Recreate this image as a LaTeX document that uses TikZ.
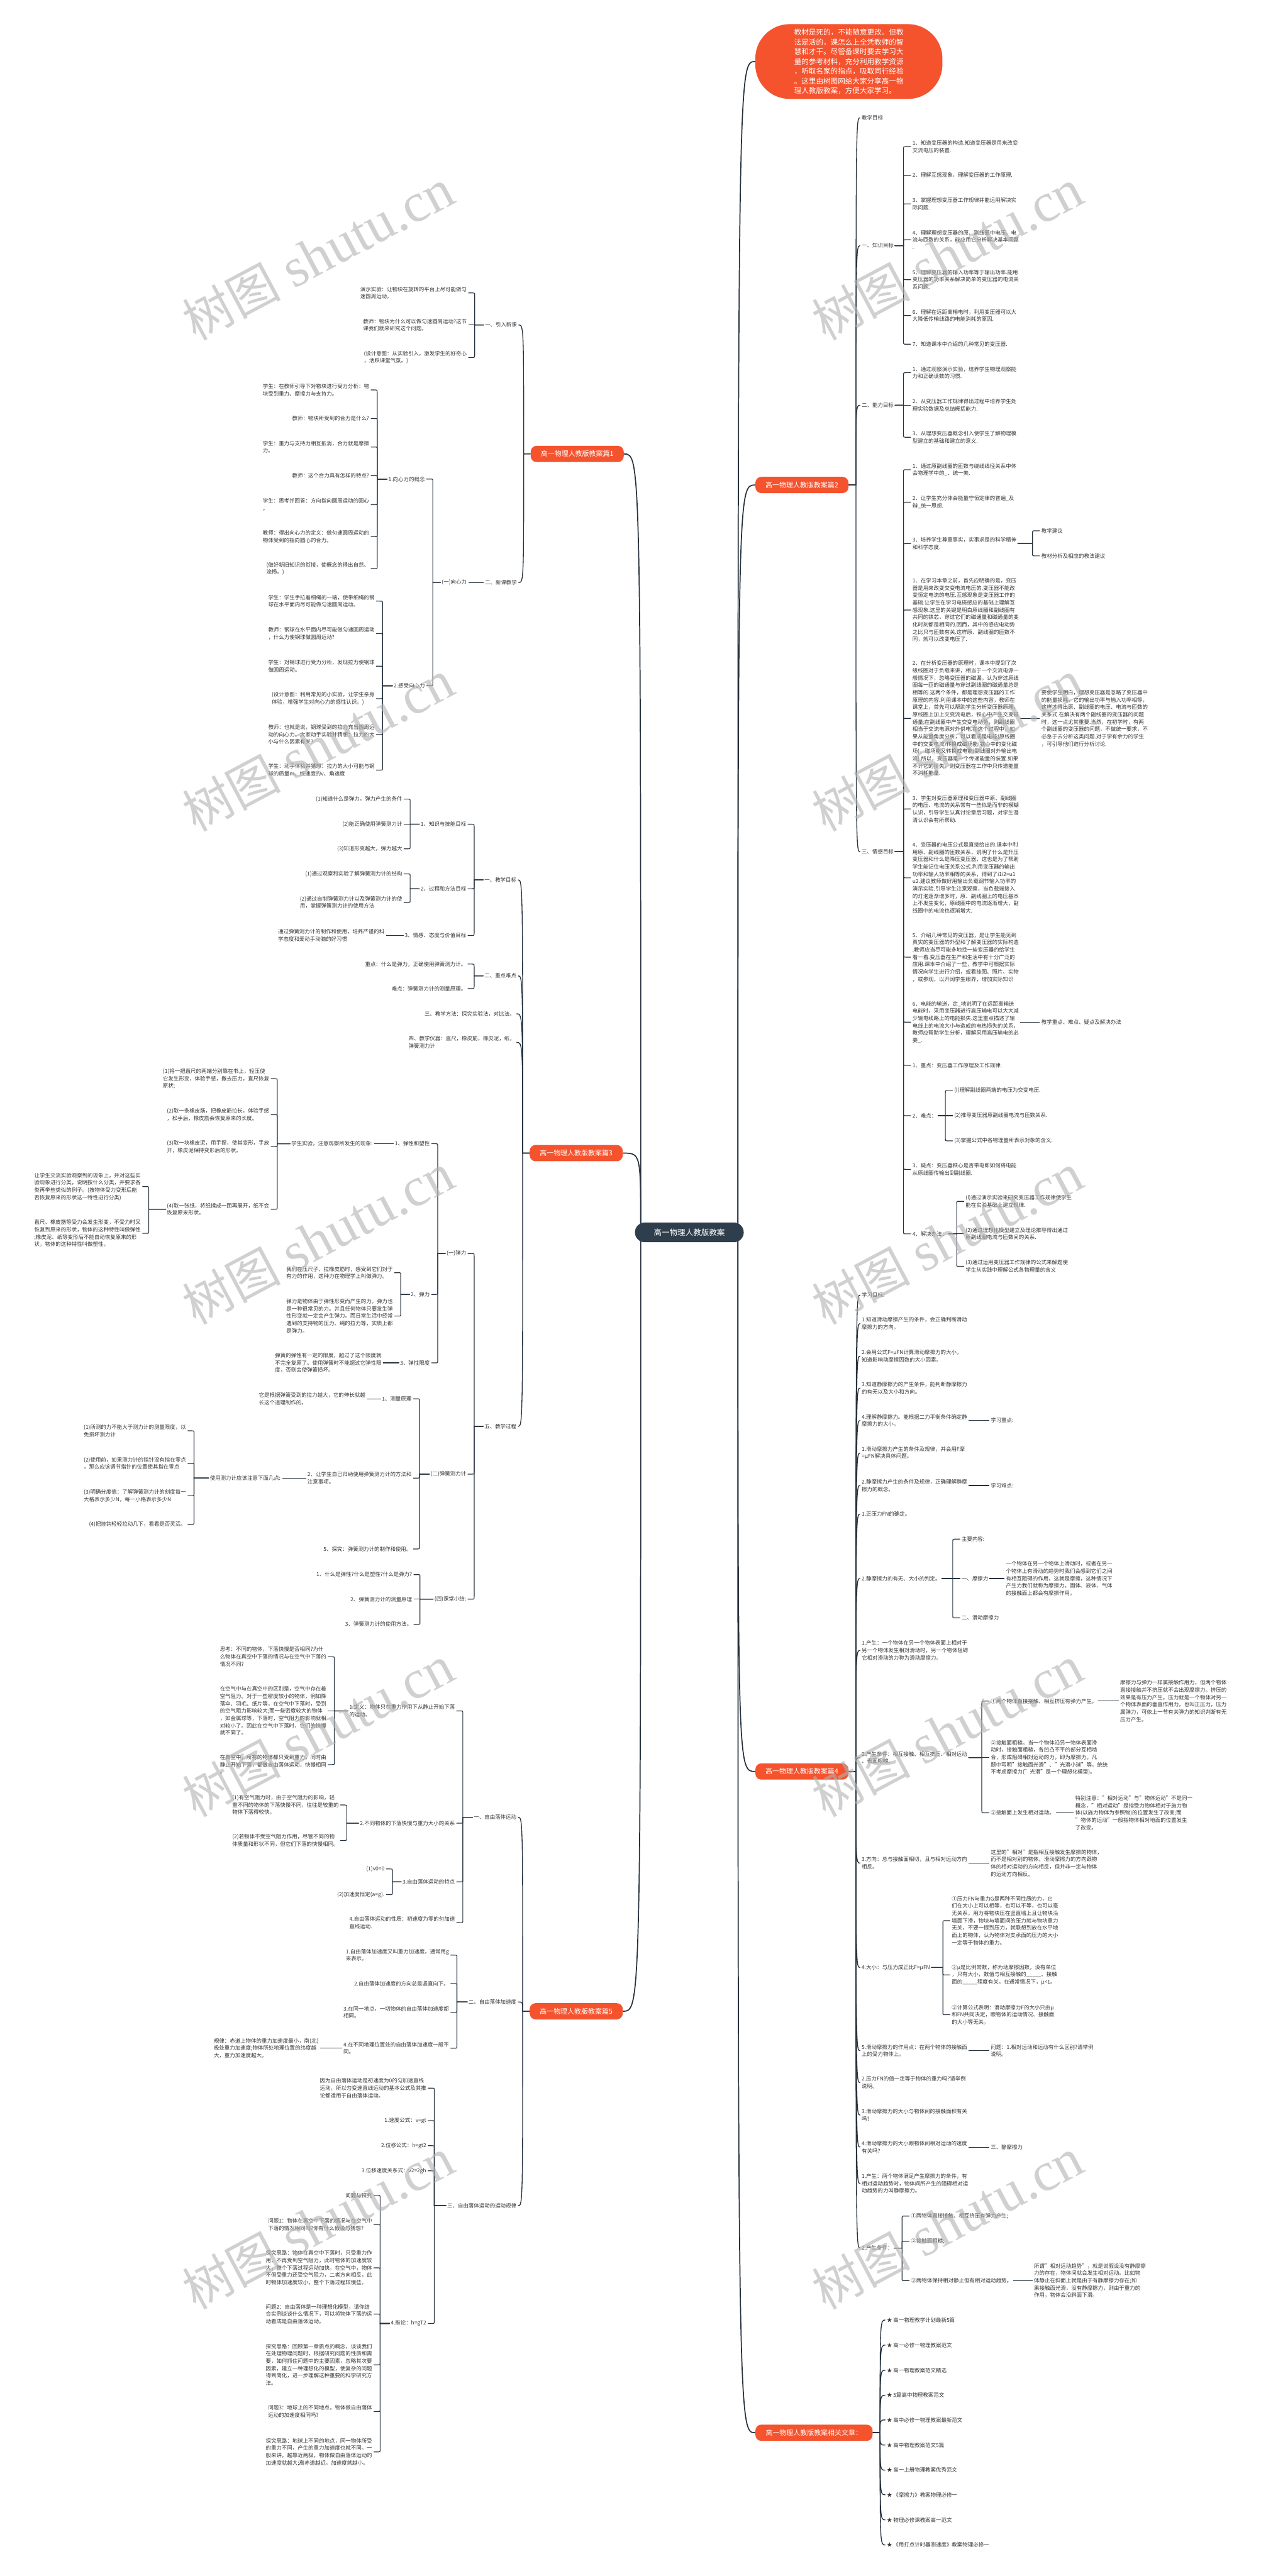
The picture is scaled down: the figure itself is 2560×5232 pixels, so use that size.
\documentclass[tikz,border=0pt]{standalone}
\usepackage{fontspec}
\setmainfont{Noto Sans CJK SC}
\newfontfamily\wmserif{Liberation Serif}
\usetikzlibrary{calc}
\definecolor{og}{HTML}{F5532E}
\definecolor{rootc}{HTML}{2F3E4C}
\definecolor{lnc}{HTML}{25323E}
\definecolor{txc}{HTML}{333333}
\pgfdeclarelayer{bg}
\pgfsetlayers{bg,main}
\tikzset{
 tx/.style={font=\fontsize{10.8}{14.9}\selectfont, inner sep=0pt, align=left, text=txc},
 nr/.style={tx, anchor=west},
 nl/.style={tx, anchor=east},
 lab/.style={fill=og, text=white, rounded corners=12pt, font=\fontsize{14}{16}\selectfont, inner xsep=8pt, inner ysep=0pt, minimum height=33pt, minimum width=189pt},
 br/.style={draw=lnc, line width=1.5pt},
 mb/.style={draw=lnc, line width=1.7pt},
 rt/.style={draw=lnc, line width=2.2pt},
 wm/.style={rotate=28, text=black!30, opacity=0.6, inner sep=0pt}
}
\newcommand\ConR[2]{\draw[br] let \p1=(#1.east), \p2=(#2.west), \n1={\x2-18pt}, \n3={5*(((\y2)>(\y1))-((\y2)<(\y1)))} in (\x1+2pt,\y1) -- (\n1,\y1) -- (\n1,{\y2-(\n3)}) .. controls (\n1,\y2) .. (\n1+5pt,\y2) -- (\x2-3pt,\y2);}
\newcommand\ConL[2]{\draw[br] let \p1=(#1.west), \p2=(#2.east), \n1={\x2+16pt}, \n3={5*(((\y2)>(\y1))-((\y2)<(\y1)))} in (\x1-2pt,\y1) -- (\n1,\y1) -- (\n1,{\y2-(\n3)}) .. controls (\n1,\y2) .. (\n1-5pt,\y2) -- (\x2+3pt,\y2);}
\newcommand\MainR[2]{\draw[mb] let \p1=(#1.east), \p2=(#2.west) in (\x1,\y1) -- (\x1+15pt,\y1) .. controls (\x1+15pt,\y2) .. (\x2-3pt,\y2);}
\newcommand\MainL[2]{\draw[mb] let \p1=(#1.west), \p2=(#2.east) in (\x1,\y1) -- (\x1-14pt,\y1) .. controls (\x1-14pt,\y2) .. (\x2+3pt,\y2);}
\newcommand\RootR[1]{\draw[rt] let \p1=(root.east), \p2=(#1.west) in (\x1-12pt,\y1) .. controls (\x1-12pt,\y2) .. (\x2,\y2);}
\newcommand\RootL[1]{\draw[rt] let \p1=(root.west), \p2=(#1.east) in (\x1+12pt,\y1) .. controls (\x1+12pt,\y2) .. (\x2,\y2);}
\newcommand\wmtext{{\fontsize{100}{100}\selectfont 树图}\hspace{26pt}{\wmserif\fontsize{112}{112}\selectfont shutu.cn}}
\begin{document}
\begin{tikzpicture}[x=1pt,y=-1pt]
\useasboundingbox (0,0) rectangle (2560,5232);
\begin{pgfonlayer}{bg}
\fill[white] (0,0) rectangle (2560,5232);
\end{pgfonlayer}

% ---------- root and main labels
\node[fill=rootc, text=white, rounded corners=20pt, minimum width=221pt, minimum height=40pt, font=\fontsize{16}{18}\selectfont, inner sep=0pt] (root) at (1400,2503) {高一物理人教版教案};
\node[fill=og, text=white, rounded corners=70pt, minimum width=380pt, minimum height=152pt, font=\fontsize{14.8}{19.8}\selectfont, align=left, inner sep=0pt] (IN) at (1724,125) {教材是死的，不能随意更改。但教\\法是活的，课怎么上全凭教师的智\\慧和才干。尽管备课时要去学习大\\量的参考材料，充分利用教学资源\\，听取名家的指点，吸取同行经验\\。这里由树图网给大家分享高一物\\理人教版教案，方便大家学习。};
\node[lab, anchor=west] (B2) at (1534,985) {高一物理人教版教案篇2};
\node[lab, anchor=west] (B4) at (1534,3598) {高一物理人教版教案篇4};
\node[lab, anchor=west, minimum width=238pt] (B6) at (1534,4941) {高一物理人教版教案相关文章：};
\node[lab, anchor=east] (B1) at (1267,922) {高一物理人教版教案篇1};
\node[lab, anchor=east] (B3) at (1265,2342) {高一物理人教版教案篇3};
\node[lab, anchor=east] (B5) at (1265,4085) {高一物理人教版教案篇5};

% ---------- 篇2
\node[nr] (b2a) at (1750,239) {教学目标};
\node[nr] (b2b) at (1750,499) {一、知识目标};
\node[nr] (b2c) at (1750,823) {二、能力目标};
\node[nr] (b2d) at (1750,1730) {三、情感目标};
\node[nr] (b2b1) at (1853,298) {1、知道变压器的构造.知道变压器是用来改变\\交流电压的装置.};
\node[nr] (b2b2) at (1853,356) {2、理解互感现象，理解变压器的工作原理.};
\node[nr] (b2b3) at (1853,414) {3、掌握理想变压器工作规律并能运用解决实\\际问题.};
\node[nr] (b2b4) at (1853,487) {4、理解理想变压器的原、副线圈中电压、电\\流与匝数的关系，能应用它分析解决基本问题\\.};
\node[nr] (b2b5) at (1853,568) {5、理解变压器的输入功率等于输出功率.能用\\变压器的功率关系解决简单的变压器的电流关\\系问题.};
\node[nr] (b2b6) at (1853,641) {6、理解在远距离输电时，利用变压器可以大\\大降低传输线路的电能消耗的原因.};
\node[nr] (b2b7) at (1853,699) {7、知道课本中介绍的几种常见的变压器.};
\node[nr] (b2c1) at (1853,757) {1、通过观察演示实验，培养学生物理观察能\\力和正确读数的习惯.};
\node[nr] (b2c2) at (1853,823) {2、从变压器工作规律得出过程中培养学生处\\理实验数据及总结概括能力.};
\node[nr] (b2c3) at (1853,888) {3、从理想变压器概念引入使学生了解物理模\\型建立的基础和建立的意义.};
\node[nr] (b2d1) at (1853,954) {1、通过原副线圈的匝数与绕线线径关系中体\\会物理学中的\_、统一美.};
\node[nr] (b2d2) at (1853,1020) {2、让学生充分体会能量守恒定律的普遍\_及\\辩\_统一思想.};
\node[nr] (b2d3) at (1853,1104) {3、培养学生尊重事实，实事求是的科学精神\\和科学态度.};
\node[nr] (b2d3a) at (2115,1078) {教学建议};
\node[nr] (b2d3b) at (2115,1129) {教材分析及相应的教法建议};
\node[nr] (b2d4) at (1853,1239) {1、在学习本章之前，首先应明确的是，变压\\器是用来改变交变电流电压的.变压器不能改\\变恒定电流的电压.互感现象是变压器工作的\\基础.让学生在学习电磁感应的基础上理解互\\感现象.这里的关键是明白原线圈和副线圈有\\共同的铁芯，穿过它们的磁通量和磁通量的变\\化时刻都是相同的.因而，其中的感应电动势\\之比只与匝数有关.这样原、副线圈的匝数不\\同，就可以改变电压了.};
\node[nr] (b2d5) at (1853,1459) {2、在分析变压器的原理时，课本中提到了次\\级线圈对于负载来讲，相当于一个交流电源一\\般情况下，忽略变压器的磁漏，认为穿过原线\\圈每一匝的磁通量与穿过副线圈的磁通量总是\\相等的.这两个条件，都是理想变压器的工作\\原理的内容.利用课本中的这些内容，教师在\\课堂上，首先可以帮助学生分析变压器原理，\\原线圈上加上交变流电后，铁心中产生交变磁\\通量;在副线圈中产生交变电动势，则副线圈\\相当于交流电源对外供电.在这个过程中，如\\果从能量角度分析，可以看成是电能(原线圈\\中的交变电流)转换成磁场能(铁心中的变化磁\\场)，磁场能又转换成电能(副线圈对外输出电\\流).所以，变压器是一个传递能量的装置.如果\\不计它的损失，则变压器在工作中只传递能量\\不消耗能量.};
\node[nr] (b2d5a) at (2115,1459) {要使学生明白，理想变压器是忽略了变压器中\\的能量损耗，它的输出功率与输入功率相等，\\这样才得出原、副线圈的电压、电流与匝数的\\关系式.在解决有两个副线圈的变压器的问题\\时，这一点尤其重要.当然，在初学时，有两\\个副线圈的变压器的问题，不做统一要求，不\\必急于去分析这类问题.对于学有余力的学生\\，可引导他们进行分析讨论.};
\node[nr] (b2d6) at (1853,1643) {3、学生对变压器原理和变压器中原、副线圈\\的电压、电流的关系常有一些似是而非的模糊\\认识，引导学生认真讨论章后习题，对学生澄\\清认识会有所帮助.};
\node[nr] (b2d7) at (1853,1783) {4、变压器的电压公式是直接给出的.课本中利\\用原、副线圈的匝数关系，说明了什么是升压\\变压器和什么是降压变压器，这也是为了帮助\\学生能记住电压关系公式.利用变压器的输出\\功率和输人功率相等的关系，得到了i1i2=u1\\u2.建议教师做好用输出负载调节输入功率的\\演示实验.引导学生注意观察，当负载端接入\\的灯泡逐渐增多时，原、副线圈上的电压基本\\上不发生变化，原线圈中的电流逐渐增大，副\\线圈中的电流也逐渐增大.};
\node[nr] (b2d8) at (1853,1944) {5、介绍几种常见的变压器，是让学生能见到\\真实的变压器的外型和了解变压器的实际构造\\.教师应当尽可能多地找一些变压器的给学生\\看一看.变压器在生产和生活中有十分广泛的\\应用.课本中介绍了一些，教学中可根据实际\\情况向学生进行介绍，或看挂图、照片、实物\\，或参观，以开阔学生眼界，增加实际知识};
\node[nr] (b2d9) at (1853,2076) {6、电能的输送，定\_地说明了在远距离输送\\电能时，采用变压器进行高压输电可以大大减\\少输电线路上的电能损失.这里重点描述了输\\电线上的电流大小与造成的电热损失的关系，\\教师应帮助学生分析，理解采用高压输电的必\\要\_.};
\node[nr] (b2d9a) at (2115,2076) {教学重点、难点、疑点及解决办法};
\node[nr] (b2d10) at (1853,2164) {1、重点：变压器工作原理及工作规律.};
\node[nr] (b2d11) at (1853,2266) {2、难点：};
\node[nr] (b2d11a) at (1938,2215) {(l)理解副线圈两端的电压为交变电压.};
\node[nr] (b2d11b) at (1938,2266) {(2)推导变压器原副线圈电流与匝数关系.};
\node[nr] (b2d11c) at (1938,2317) {(3)掌握公式中各物理量所表示对象的含义.};
\node[nr] (b2d12) at (1853,2375) {3、疑点：变压器铁心是否带电即如何将电能\\从原线圈传输出到副线圈.};
\node[nr] (b2d13) at (1853,2506) {4、解决办法：};
\node[nr] (b2d13a) at (1961,2440) {(l)通过演示实验来研究变压器工作规律使学生\\能在实验基础上建立规律.};
\node[nr] (b2d13b) at (1961,2506) {(2)通过理想化模型建立及理论推导得出通过\\原副线圈电流与匝数间的关系.};
\node[nr] (b2d13c) at (1961,2572) {(3)通过运用变压器工作规律的公式来解题使\\学生从实践中理解公式各物理量的含义};

% ---------- 篇4
\node[nr] (e1) at (1750,2630) {学习目标:};
\node[nr] (e2) at (1750,2688) {1.知道滑动摩擦产生的条件，会正确判断滑动\\摩擦力的方向。};
\node[nr] (e3) at (1750,2754) {2.会用公式F=μFN计算滑动摩擦力的大小，\\知道影响动摩擦因数的大小因素。};
\node[nr] (e4) at (1750,2819) {3.知道静摩擦力的产生条件，能判断静摩擦力\\的有无以及大小和方向。};
\node[nr] (e5) at (1750,2885) {4.理解静摩擦力。能根据二力平衡条件确定静\\摩擦力的大小。};
\node[nr] (e5a) at (2012,2885) {学习重点:};
\node[nr] (e6) at (1750,2951) {1.滑动摩擦力产生的条件及规律，并会用F摩\\=μFN解决具体问题。};
\node[nr] (e7) at (1750,3017) {2.静摩擦力产生的条件及规律，正确理解静摩\\擦力的概念。};
\node[nr] (e7a) at (2012,3017) {学习难点:};
\node[nr] (e8) at (1750,3075) {1.正压力FN的确定。};
\node[nr] (e9) at (1750,3206) {2.静摩擦力的有无、大小的判定。};
\node[nr] (e9a) at (1953,3126) {主要内容:};
\node[nr] (e9b) at (1953,3206) {一、摩擦力};
\node[nr] (e9c) at (1953,3286) {二、滑动摩擦力};
\node[nr] (e9b1) at (2043,3206) {一个物体在另一个物体上滑动时，或者在另一\\个物体上有滑动的趋势时我们会感到它们之间\\有相互阻碍的作用，这就是摩擦，这种情况下\\产生力我们就称为摩擦力。固体、液体、气体\\的接触面上都会有摩擦作用。};
\node[nr] (e10) at (1750,3352) {1.产生：一个物体在另一个物体表面上相对于\\另一个物体发生相对滑动时，另一个物体阻碍\\它相对滑动的力称为滑动摩擦力。};
\node[nr] (e11) at (1750,3570) {2.产生条件：相互接触、相互挤压、相对运动\\、表面粗糙。};
\node[nr] (e11a) at (2012,3455) {①两个物体直接接触、相互挤压有弹力产生。};
\node[nr] (e11a1) at (2275,3455) {摩擦力与弹力一样属接触作用力，但两个物体\\直接接触并不挤压就不会出现摩擦力。挤压的\\效果是有压力产生。压力就是一个物体对另一\\个物体表面的垂直作用力，也叫正压力，压力\\属弹力，可依上一节有关弹力的知识判断有无\\压力产生。};
\node[nr] (e11b) at (2012,3570) {②接触面粗糙。当一个物体沿另一物体表面滑\\动时，接触面粗糙，各凹凸不平的部分互相啮\\合，形成阻碍相对运动的力，即为摩擦力。凡\\题中写明"接触面光滑"、"光滑小球"等，统统\\不考虑摩擦力("光滑"是一个理想化模型)。};
\node[nr] (e11c) at (2012,3682) {③接触面上发生相对运动。};
\node[nr] (e11c1) at (2184,3682) {特别注意："相对运动"与"物体运动"不是同一\\概念，"相对运动"是指受力物体相对于施力物\\体(以施力物体为参照物)的位置发生了改变;而\\"物体的运动"一般指物体相对地面的位置发生\\了改变。};
\node[nr] (e12) at (1750,3784) {3.方向：总与接触面相切，且与相对运动方向\\相反。};
\node[nr] (e12a) at (2012,3784) {这里的"相对"是指相互接触发生摩擦的物体，\\而不是相对别的物体。滑动摩擦力的方向跟物\\体的相对运动的方向相反，但并非一定与物体\\的运动方向相反。};
\node[nr] (e13) at (1750,3996) {4.大小：与压力成正比F=μFN};
\node[nr] (e13a) at (1933,3901) {①压力FN与重力G是两种不同性质的力，它\\们在大小上可以相等，也可以不等，也可以毫\\无关系，用力将物块压在竖直墙上且让物块沿\\墙面下滑，物块与墙面间的压力就与物块重力\\无关，不要一提到压力，就联想到放在水平地\\面上的物体，认为物体对支承面的压力的大小\\一定等于物体的重力。};
\node[nr] (e13b) at (1933,4011) {②μ是比例常数，称为动摩擦因数，没有单位\\，只有大小，数值与相互接触的\_\_\_\_\_、接触\\面的\_\_\_\_\_程度有关。在通常情况下，μ<1。};
\node[nr] (e13c) at (1933,4092) {③计算公式表明：滑动摩擦力F的大小只由μ\\和FN共同决定，跟物体的运动情况、接触面\\的大小等无关。};
\node[nr] (e14) at (1750,4165) {5.滑动摩擦力的作用点：在两个物体的接触面\\上的受力物体上。};
\node[nr] (e14a) at (2012,4165) {问题：1.相对运动和运动有什么区别?请举例\\说明。};
\node[nr] (e15) at (1750,4230) {2.压力FN的值一定等于物体的重力吗?请举例\\说明。};
\node[nr] (e16) at (1750,4296) {3.滑动摩擦力的大小与物体间的接触面积有关\\吗?};
\node[nr] (e17) at (1750,4361) {4.滑动摩擦力的大小跟物体间相对运动的速度\\有关吗?};
\node[nr] (e17a) at (2012,4361) {三、静摩擦力};
\node[nr] (e18) at (1750,4435) {1.产生：两个物体满足产生摩擦力的条件，有\\相对运动趋势时，物体间所产生的阻碍相对运\\动趋势的力叫静摩擦力。};
\node[nr] (e19) at (1750,4566) {2.产生条件：};
\node[nr] (e19a) at (1850,4501) {①两物体直接接触、相互挤压有弹力产生;};
\node[nr] (e19b) at (1850,4552) {②接触面粗糙;};
\node[nr] (e19c) at (1850,4632) {③两物体保持相对静止但有相对运动趋势。};
\node[nr] (e19c1) at (2100,4632) {所谓"相对运动趋势"，就是说假设没有静摩擦\\力的存在，物体间就会发生相对运动。比如物\\体静止在斜面上就是由于有静摩擦力存在;如\\果接触面光滑，没有静摩擦力，则由于重力的\\作用，物体会沿斜面下滑。};

% ---------- related articles
\node[nr] (g1) at (1801,4712) {★ 高一物理教学计划最新5篇};
\node[nr] (g2) at (1801,4763) {★ 高一必修一物理教案范文};
\node[nr] (g3) at (1801,4814) {★ 高一物理教案范文精选};
\node[nr] (g4) at (1801,4865) {★ 5篇高中物理教案范文};
\node[nr] (g5) at (1801,4915) {★ 高中必修一物理教案最新范文};
\node[nr] (g6) at (1801,4966) {★ 高中物理教案范文5篇};
\node[nr] (g7) at (1801,5017) {★ 高一上册物理教案优秀范文};
\node[nr] (g8) at (1801,5067) {★ 《摩擦力》教案物理必修一};
\node[nr] (g9) at (1801,5118) {★ 物理必修课教案高一范文};
\node[nr] (g10) at (1801,5169) {★ 《用打点计时器测速度》教案物理必修一};

% ---------- 篇1
\node[nl] (a1) at (1050,660) {一、引入新课};
\node[nl] (a1a) at (948,595) {演示实验：让物块在旋转的平台上尽可能做匀\\速圆周运动。};
\node[nl] (a1b) at (948,660) {教师：物块为什么可以做匀速圆周运动?这节\\课我们就来研究这个问题。};
\node[nl] (a1c) at (948,726) {(设计意图：从实验引入，激发学生的好奇心\\，活跃课堂气氛。)};
\node[nl] (a2) at (1050,1183) {二、新课教学};
\node[nl] (a2a) at (948,1183) {(一)向心力};
\node[nl] (a2a1) at (863,973) {1.向心力的概念};
\node[nl] (a2a2) at (863,1393) {2.感受向心力};
\node[nl] (p1) at (750,792) {学生：在教师引导下对物块进行受力分析：物\\块受到重力、摩擦力与支持力。};
\node[nl] (p2) at (750,850) {教师：物块所受到的合力是什么?};
\node[nl] (p3) at (750,908) {学生：重力与支持力相互抵消，合力就是摩擦\\力。};
\node[nl] (p4) at (750,966) {教师：这个合力具有怎样的特点?};
\node[nl] (p5) at (750,1025) {学生：思考并回答：方向指向圆周运动的圆心\\。};
\node[nl] (p6) at (750,1090) {教师：得出向心力的定义：做匀速圆周运动的\\物体受到的指向圆心的合力。};
\node[nl] (p7) at (750,1155) {(做好新旧知识的衔接，使概念的得出自然、\\流畅。)};
\node[nl] (q1) at (761,1221) {学生：学生手拉着细绳的一端，使带细绳的钢\\球在水平面内尽可能做匀速圆周运动。};
\node[nl] (q2) at (761,1287) {教师：钢球在水平面内尽可能做匀速圆周运动\\，什么力使钢球做圆周运动?};
\node[nl] (q3) at (761,1353) {学生：对钢球进行受力分析，发现拉力使钢球\\做圆周运动。};
\node[nl] (q4) at (761,1419) {(设计意图：利用常见的小实验，让学生亲身\\体验，增强学生对向心力的感性认识。)};
\node[nl] (q5) at (761,1492) {教师：也就是说，钢球受到的拉力充当圆周运\\动的向心力。大家动手实验并猜想：拉力的大\\小与什么因素有关?};
\node[nl] (q6) at (761,1564) {学生：动手体验并猜想：拉力的大小可能与钢\\球的质量m、线速度的v、角速度};

% ---------- 篇3
\node[nl] (c1) at (1049,1787) {一、教学目标};
\node[nl] (c1a) at (947,1674) {1、知识与技能目标};
\node[nl] (c1a1) at (817,1623) {(1)知道什么是弹力，弹力产生的条件};
\node[nl] (c1a2) at (817,1674) {(2)能正确使用弹簧测力计};
\node[nl] (c1a3) at (817,1724) {(3)知道形变越大，弹力越大};
\node[nl] (c1b) at (947,1805) {2、过程和方法目标};
\node[nl] (c1b1) at (817,1775) {(1)通过观察和实验了解弹簧测力计的结构};
\node[nl] (c1b2) at (817,1833) {(2)通过自制弹簧测力计以及弹簧测力计的使\\用，掌握弹簧测力计的使用方法};
\node[nl] (c1c) at (947,1900) {3、情感、态度与价值目标};
\node[nl] (c1c1) at (781,1900) {通过弹簧测力计的制作和使用，培养严谨的科\\学态度和爱动手动脑的好习惯};
\node[nl] (c2) at (1049,1982) {二、重点难点};
\node[nl] (c2a) at (947,1958) {重点：什么是弹力，正确使用弹簧测力计。};
\node[nl] (c2b) at (947,2008) {难点：弹簧测力计的测量原理。};
\node[nl] (c3) at (1046,2059) {三、教学方法：探究实验法，对比法。};
\node[nl] (c4) at (1046,2117) {四、教学仪器：直尺，橡皮筋，橡皮泥，纸，\\弹簧测力计};
\node[nl] (c5) at (1049,2897) {五、教学过程};
\node[nl] (c5a) at (947,2546) {(一)弹力};
\node[nl] (c5a1) at (873,2323) {1、弹性和塑性};
\node[nl] (c5a1x) at (757,2323) {学生实验，注意观察所发生的现象:};
\node[nl] (x1) at (547,2191) {(1)将一把直尺的两端分别靠在书上，轻压使\\它发生形变，体验手感，撤去压力，直尺恢复\\原状;};
\node[nl] (x2) at (547,2264) {(2)取一条橡皮筋，把橡皮筋拉长，体验手感\\，松手后，橡皮筋会恢复原来的长度。};
\node[nl] (x3) at (547,2329) {(3)取一块橡皮泥，用手捏，使其变形，手放\\开，橡皮泥保持变形后的形状。};
\node[nl] (x4) at (547,2456) {(4)取一张纸，将纸揉成一团再展开，纸不会\\恢复原来形状。};
\node[nl] (x4a) at (286,2410) {让学生交流实验观察到的现象上，并对这些实\\验现象进行分类，说明按什么分类，并要求各\\类再举些类似的例子。(按物体受力变形后能\\否恢复原来的形状这一特性进行分类)};
\node[nl] (x4b) at (286,2505) {直尺、橡皮筋等受力会发生形变，不受力时又\\恢复到原来的形状，物体的这种特性叫做弹性\\;橡皮泥、纸等变形后不能自动恢复原来的形\\状，物体的这种特性叫做塑性。};
\node[nl] (c5a2) at (873,2629) {2、弹力};
\node[nl] (c5a2a) at (798,2585) {我们在压尺子、拉橡皮筋时，感受到它们对于\\有力的作用，这种力在物理学上叫做弹力。};
\node[nl] (c5a2b) at (798,2673) {弹力是物体由于弹性形变而产生的力。弹力也\\是一种很常见的力。并且任何物体只要发生弹\\性形变就一定会产生弹力。而日常生活中经常\\遇到的支持物的压力、绳的拉力等，实质上都\\是弹力。};
\node[nl] (c5a3) at (873,2768) {3、弹性限度};
\node[nl] (c5a3a) at (775,2768) {弹簧的弹性有一定的限度，超过了这个限度就\\不完全复原了。使用弹簧时不能超过它弹性限\\度，否则会使弹簧损坏。};
\node[nl] (c5b) at (947,2994) {(二)弹簧测力计};
\node[nl] (c5b1) at (836,2841) {1、测量原理};
\node[nl] (c5b1a) at (742,2841) {它是根据弹簧受到的拉力越大，它的伸长就越\\长这个道理制作的。};
\node[nl] (c5b2) at (836,3002) {2、让学生自己归纳使用弹簧测力计的方法和\\注意事项。};
\node[nl] (c5b2x) at (570,3002) {使用测力计应该注意下面几点:};
\node[nl] (y1) at (378,2906) {(1)所测的力不能大于测力计的测量限度，以\\免损坏测力计};
\node[nl] (y2) at (378,2972) {(2)使用前，如果测力计的指针没有指在零点\\，那么应该调节指针的位置使其指在零点};
\node[nl] (y3) at (378,3038) {(3)明确分度值：了解弹簧测力计的刻度每一\\大格表示多少N，每一小格表示多少N};
\node[nl] (y4) at (378,3096) {(4)把挂钩轻轻拉动几下，看看是否灵活。};
\node[nl] (c5b3) at (836,3146) {5、探究：弹簧测力计的制作和使用。};
\node[nl] (c5c) at (947,3248) {(四)课堂小结:};
\node[nl] (c5c1) at (837,3198) {1、什么是弹性?什么是塑性?什么是弹力?};
\node[nl] (c5c2) at (837,3248) {2、弹簧测力计的测量原理};
\node[nl] (c5c3) at (837,3299) {3、弹簧测力计的使用方法。};

% ---------- 篇5
\node[nl] (f1) at (1049,3691) {一、自由落体运动};
\node[nl] (f1a) at (924,3475) {1.定义：物体只在重力作用下从静止开始下落\\的运动。};
\node[nl] (f1a1) at (663,3365) {思考：不同的物体，下落快慢是否相同?为什\\么物体在真空中下落的情况与在空气中下落的\\情况不同?};
\node[nl] (f1a2) at (663,3475) {在空气中与在真空中的区别是，空气中存在着\\空气阻力。对于一些密度较小的物体，例如降\\落伞、羽毛、纸片等，在空气中下落时，受到\\的空气阻力影响较大;而一些密度较大的物体\\，如金属球等，下落时，空气阻力的影响就相\\对较小了。因此在空气中下落时，它们的快慢\\就不同了。};
\node[nl] (f1a3) at (663,3584) {在真空中，所有的物体都只受到重力，同时由\\静止开始下落，都做自由落体运动，快慢相同\\。};
\node[nl] (f1b) at (924,3703) {2.不同物体的下落快慢与重力大小的关系};
\node[nl] (f1b1) at (688,3666) {(1)有空气阻力时，由于空气阻力的影响，轻\\重不同的物体的下落快慢不同，往往是较重的\\物体下落得较快。};
\node[nl] (f1b2) at (688,3738) {(2)若物体不受空气阻力作用，尽管不同的物\\体质量和形状不同，但它们下落的快慢相同。};
\node[nl] (f1c) at (924,3822) {3.自由落体运动的特点};
\node[nl] (f1c1) at (781,3796) {(1)v0=0};
\node[nl] (f1c2) at (781,3848) {(2)加速度恒定(a=g).};
\node[nl] (f1d) at (924,3905) {4.自由落体运动的性质：初速度为零的匀加速\\直线运动.};
\node[nl] (f2) at (1049,4066) {二、自由落体加速度};
\node[nl] (f2a) at (912,3971) {1.自由落体加速度又叫重力加速度，通常用g\\来表示。};
\node[nl] (f2b) at (912,4029) {2.自由落体加速度的方向总是竖直向下。};
\node[nl] (f2c) at (912,4087) {3.在同一地点，一切物体的自由落体加速度都\\相同。};
\node[nl] (f2d) at (912,4160) {4.在不同地理位置处的自由落体加速度一般不\\同。};
\node[nl] (f2d1) at (647,4160) {规律：赤道上物体的重力加速度最小，南(北)\\极处重力加速度;物体所处地理位置的纬度越\\大，重力加速度越大。};
\node[nl] (f3) at (1049,4480) {三、自由落体运动的运动规律};
\node[nl] (f3a) at (866,4241) {因为自由落体运动是初速度为0的匀加速直线\\运动，所以匀变速直线运动的基本公式及其推\\论都适用于自由落体运动。};
\node[nl] (f3b) at (866,4307) {1.速度公式：v=gt};
\node[nl] (f3c) at (866,4358) {2.位移公式：h=gt2};
\node[nl] (f3d) at (866,4409) {3.位移速度关系式：v2=2gh};
\node[nl] (f3e) at (866,4719) {4.推论：h=gT2};
\node[nl] (f3e1) at (756,4459) {问题与探究};
\node[nl] (f3e2) at (756,4518) {问题1：物体在真空中下落的情况与在空气中\\下落的情况相同吗?你有什么假设与猜想?};
\node[nl] (f3e3) at (756,4606) {探究思路：物体在真空中下落时，只受重力作\\用，不再受到空气阻力，此时物体的加速度较\\大，整个下落过程运动加快。在空气中，物体\\不但受重力还受空气阻力，二者方向相反，此\\时物体加速度较小，整个下落过程较慢些。};
\node[nl] (f3e4) at (756,4700) {问题2：自由落体是一种理想化模型，请你结\\合实例谈谈什么情况下，可以将物体下落的运\\动看成是自由落体运动。};
\node[nl] (f3e5) at (756,4803) {探究思路：回顾第一章质点的概念，谈谈我们\\在处理物理问题时，根据研究问题的性质和需\\要，如何抓住问题中的主要因素，忽略其次要\\因素，建立一种理想化的模型，使复杂的问题\\得到简化，进一步理解这种重要的科学研究方\\法。};
\node[nl] (f3e6) at (756,4898) {问题3：地球上的不同地点，物体做自由落体\\运动的加速度相同吗?};
\node[nl] (f3e7) at (756,4980) {探究思路：地球上不同的地点，同一物体所受\\的重力不同，产生的重力加速度也就不同。一\\般来讲，越靠近两极，物体做自由落体运动的\\加速度就越大;离赤道越近，加速度就越小。};

% ---------- connectors
\begin{pgfonlayer}{bg}
\RootR{IN} \RootR{B2} \RootR{B4} \RootR{B6}
\RootL{B1} \RootL{B3} \RootL{B5}
% 篇2
\MainR{B2}{b2a} \MainR{B2}{b2b} \MainR{B2}{b2c} \MainR{B2}{b2d}
\foreach \i in {1,...,7} {\ConR{b2b}{b2b\i}}
\foreach \i in {1,2,3} {\ConR{b2c}{b2c\i}}
\foreach \i in {1,...,13} {\ConR{b2d}{b2d\i}}
\ConR{b2d3}{b2d3a} \ConR{b2d3}{b2d3b} \ConR{b2d5}{b2d5a} \ConR{b2d9}{b2d9a}
\foreach \i in {a,b,c} {\ConR{b2d11}{b2d11\i} \ConR{b2d13}{b2d13\i}}
% 篇4
\foreach \i in {1,...,19} {\MainR{B4}{e\i}}
\ConR{e5}{e5a} \ConR{e7}{e7a}
\foreach \i in {a,b,c} {\ConR{e9}{e9\i} \ConR{e11}{e11\i} \ConR{e13}{e13\i} \ConR{e19}{e19\i}}
\ConR{e9b}{e9b1} \ConR{e11a}{e11a1} \ConR{e11c}{e11c1}
\ConR{e12}{e12a} \ConR{e14}{e14a} \ConR{e17}{e17a} \ConR{e19c}{e19c1}
% related
\foreach \i in {1,...,10} {\MainR{B6}{g\i}}
% 篇1
\MainL{B1}{a1} \MainL{B1}{a2}
\foreach \i in {a,b,c} {\ConL{a1}{a1\i}}
\ConL{a2}{a2a} \ConL{a2a}{a2a1} \ConL{a2a}{a2a2}
\foreach \i in {1,...,7} {\ConL{a2a1}{p\i}}
\foreach \i in {1,...,6} {\ConL{a2a2}{q\i}}
% 篇3
\foreach \i in {1,...,5} {\MainL{B3}{c\i}}
\foreach \i in {a,b,c} {\ConL{c1}{c1\i} \ConL{c5}{c5\i}}
\foreach \i in {1,2,3} {\ConL{c1a}{c1a\i} \ConL{c5a}{c5a\i} \ConL{c5b}{c5b\i} \ConL{c5c}{c5c\i}}
\ConL{c1b}{c1b1} \ConL{c1b}{c1b2} \ConL{c1c}{c1c1}
\ConL{c2}{c2a} \ConL{c2}{c2b}
\ConL{c5a1}{c5a1x}
\foreach \i in {1,...,4} {\ConL{c5a1x}{x\i} \ConL{c5b2x}{y\i}}
\ConL{x4}{x4a} \ConL{x4}{x4b}
\ConL{c5a2}{c5a2a} \ConL{c5a2}{c5a2b} \ConL{c5a3}{c5a3a}
\ConL{c5b1}{c5b1a} \ConL{c5b2}{c5b2x}
% 篇5
\foreach \i in {1,2,3} {\MainL{B5}{f\i}}
\foreach \i in {a,b,c,d} {\ConL{f1}{f1\i} \ConL{f2}{f2\i}}
\foreach \i in {1,2,3} {\ConL{f1a}{f1a\i}}
\ConL{f1b}{f1b1} \ConL{f1b}{f1b2} \ConL{f1c}{f1c1} \ConL{f1c}{f1c2}
\ConL{f2d}{f2d1}
\foreach \i in {a,b,c,d,e} {\ConL{f3}{f3\i}}
\foreach \i in {1,...,7} {\ConL{f3e}{f3e\i}}
\end{pgfonlayer}

% ---------- watermark
\foreach \yy in {518,1516,2517,3517,4517} {
  \node[wm] at (646,\yy) {\wmtext};
  \node[wm] at (1924,\yy) {\wmtext};
}
\end{tikzpicture}
\end{document}
